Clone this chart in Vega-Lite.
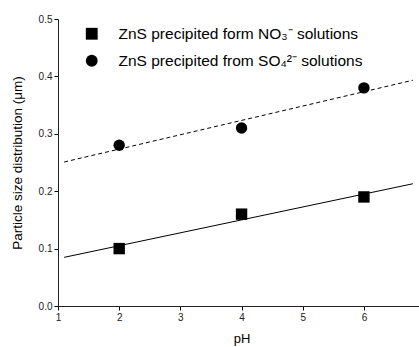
{
  "$schema": "https://vega.github.io/schema/vega-lite/v6.json",
  "autosize": "none",
  "padding": {"left": 58, "top": 19, "right": 0, "bottom": 41},
  "width": 361,
  "height": 287,
  "background": "white",
  "config": {
    "view": {"stroke": null},
    "font": "Liberation Sans",
    "axis": {"grid": false, "domainColor": "#222", "tickColor": "black", "labelColor": "#222", "titleColor": "black", "labelFont": "Liberation Sans", "titleFont": "Liberation Sans", "titleFontWeight": "normal"}
  },
  "data": {"values": [
    {"series": "ZnS precipited form NO₃⁻ solutions", "pH": 2, "size": 0.10},
    {"series": "ZnS precipited form NO₃⁻ solutions", "pH": 4, "size": 0.16},
    {"series": "ZnS precipited form NO₃⁻ solutions", "pH": 6, "size": 0.19},
    {"series": "ZnS precipited from SO₄²⁻ solutions", "pH": 2, "size": 0.28},
    {"series": "ZnS precipited from SO₄²⁻ solutions", "pH": 4, "size": 0.31},
    {"series": "ZnS precipited from SO₄²⁻ solutions", "pH": 6, "size": 0.38}
  ]},
  "layer": [
    {
      "transform": [
        {"filter": "indexof(datum.series, 'NO') >= 0"},
        {"regression": "size", "on": "pH", "extent": [1.1, 6.8]}
      ],
      "mark": {"type": "line", "color": "black", "strokeWidth": 1},
      "encoding": {
        "x": {"field": "pH", "type": "quantitative"},
        "y": {"field": "size", "type": "quantitative"}
      }
    },
    {
      "transform": [
        {"filter": "indexof(datum.series, 'SO') >= 0"},
        {"regression": "size", "on": "pH", "extent": [1.1, 6.8]}
      ],
      "mark": {"type": "line", "color": "black", "strokeWidth": 1, "strokeDash": [4, 3]},
      "encoding": {
        "x": {"field": "pH", "type": "quantitative"},
        "y": {"field": "size", "type": "quantitative"}
      }
    },
    {
      "mark": {"type": "point", "filled": true, "color": "black", "opacity": 1, "size": 130},
      "encoding": {
        "x": {"field": "pH", "type": "quantitative", "title": "pH",
          "scale": {"domain": [1, 6.9], "nice": false, "zero": false},
          "axis": {"values": [1, 1.5, 2, 2.5, 3, 3.5, 4, 4.5, 5, 5.5, 6, 6.5],
            "labelExpr": "datum.value % 1 === 0 ? format(datum.value, 'd') : ''",
            "tickSize": {"condition": {"test": "datum.value % 1 === 0", "value": 4}, "value": 3},
            "labelFontSize": 10, "titleFontSize": 13, "labelPadding": 2, "titlePadding": 10, "titleX": 183.5, "labelFlush": false}
        },
        "y": {"field": "size", "type": "quantitative", "title": "Particle size distribution (μm)",
          "scale": {"domain": [0, 0.5], "nice": false},
          "axis": {"values": [0, 0.05, 0.1, 0.15, 0.2, 0.25, 0.3, 0.35, 0.4, 0.45, 0.5],
            "labelExpr": "abs(datum.value * 10 - round(datum.value * 10)) < 0.001 ? format(datum.value, '.1f') : ''",
            "tickSize": {"condition": {"test": "abs(datum.value * 10 - round(datum.value * 10)) < 0.001", "value": 4}, "value": 2},
            "labelFontSize": 10, "titleFontSize": 13.5, "labelPadding": 2, "titlePadding": 14}
        },
        "shape": {"field": "series", "type": "nominal",
          "scale": {"domain": ["ZnS precipited form NO₃⁻ solutions", "ZnS precipited from SO₄²⁻ solutions"], "range": ["square", "circle"]},
          "legend": {"title": null, "orient": "none", "legendX": 26, "legendY": 7, "symbolSize": 140, "symbolFillColor": "black", "symbolStrokeColor": "black", "symbolType": "circle", "labelFontSize": 15.5, "labelFont": "Liberation Sans", "labelColor": "black", "labelOffset": 19, "rowPadding": 8, "labelLimit": 400}
        }
      }
    }
  ]
}
